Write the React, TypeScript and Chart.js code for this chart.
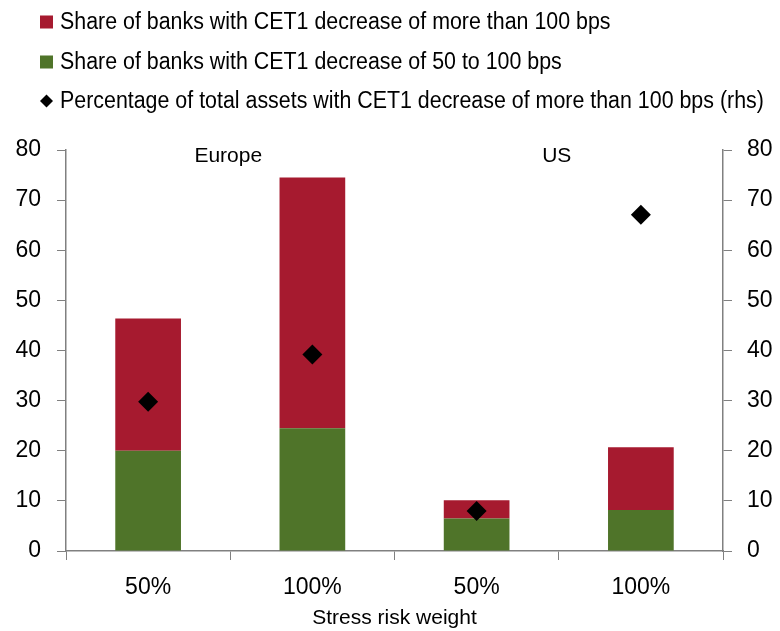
import React, { useEffect, useRef } from "react";
import { Chart, registerables } from "chart.js";

Chart.register(...registerables);

const categories = ["50%", "100%", "50%", "100%"];
const groupLabels = ["Europe", "US"];
const share50to100 = [20, 24.5, 6.5, 8.2];
const shareMore100 = [26.4, 50, 3.6, 12.5];
const assetsMore100 = [29.8, 39.2, 8.0, 67.1];
const yTicks = [0, 10, 20, 30, 40, 50, 60, 70, 80];

const RED = "#A61A2F";
const GREEN = "#4F7429";
const AXIS = "#808080";
const FONT = "'Liberation Sans', Arial, sans-serif";

const legendPlugin = {
  id: "customLegend",
  afterDraw(chart: any) {
    const ctx = chart.ctx;
    const items = [
      { text: chart.data.datasets[1].label, color: RED, kind: "box" },
      { text: chart.data.datasets[0].label, color: GREEN, kind: "box" },
      { text: chart.data.datasets[2].label, color: "#000", kind: "diamond" },
    ];
    const ys = [22, 62, 101];
    ctx.save();
    ctx.textBaseline = "middle";
    ctx.textAlign = "left";
    items.forEach((it, i) => {
      const y = ys[i];
      ctx.fillStyle = it.color;
      if (it.kind === "box") {
        ctx.fillRect(40, y - 6.5, 13, 13);
      } else {
        ctx.beginPath();
        ctx.moveTo(46.5, y - 6.5);
        ctx.lineTo(53, y);
        ctx.lineTo(46.5, y + 6.5);
        ctx.lineTo(40, y);
        ctx.closePath();
        ctx.fill();
      }
      ctx.save();
      ctx.translate(60, y + 1);
      ctx.scale(0.93, 1);
      ctx.font = `23px ${FONT}`;
      ctx.fillStyle = "#000";
      ctx.fillText(it.text, 0, 0);
      ctx.restore();
    });
    ctx.restore();
  },
};

const groupLabelPlugin = {
  id: "groupLabels",
  afterDraw(chart: any) {
    const ctx = chart.ctx;
    const x = chart.scales.x;
    const top = chart.chartArea.top;
    ctx.save();
    ctx.font = `21px ${FONT}`;
    ctx.fillStyle = "#000";
    ctx.textAlign = "center";
    ctx.textBaseline = "middle";
    groupLabels.forEach((g, i) => {
      const cx = (x.getPixelForValue(i * 2) + x.getPixelForValue(i * 2 + 1)) / 2;
      ctx.fillText(g, cx - 2, top + 6);
    });
    ctx.restore();
  },
};

export default function App() {
  const ref = useRef<HTMLCanvasElement>(null);
  useEffect(() => {
    if (!ref.current) return;
    const tickFont = { family: FONT, size: 23 };
    const chart = new Chart(ref.current, {
      type: "bar",
      data: {
        labels: categories,
        datasets: [
          {
            type: "bar",
            label: "Share of banks with CET1 decrease of 50 to 100 bps",
            data: share50to100,
            backgroundColor: GREEN,
            yAxisID: "y",
            order: 0,
          },
          {
            type: "bar",
            label: "Share of banks with CET1 decrease of more than 100 bps",
            data: shareMore100,
            backgroundColor: RED,
            yAxisID: "y",
            order: 0,
          },
          {
            type: "line",
            label:
              "Percentage of total assets with CET1 decrease of more than 100 bps (rhs)",
            data: assetsMore100,
            showLine: false,
            pointStyle: "rectRot",
            pointRadius: 10,
            backgroundColor: "#000",
            borderColor: "#000",
            borderWidth: 0,
            yAxisID: "y2",
            order: -1,
          } as any,
        ],
      },
      options: {
        responsive: false,
        animation: false,
        layout: { padding: { top: 150, left: 0, right: 0, bottom: 0 } },
        plugins: { legend: { display: false }, tooltip: { enabled: false } },
        datasets: { bar: { categoryPercentage: 1, barPercentage: 0.4 } },
        scales: {
          x: {
            stacked: true,
            offset: true,
            grid: {
              offset: true,
              drawOnChartArea: false,
              drawTicks: true,
              tickLength: 9,
              color: AXIS,
            },
            border: { color: AXIS, width: 1.5 },
            ticks: { font: tickFont, color: "#000", padding: 14 },
            title: {
              display: true,
              text: "Stress risk weight",
              font: { family: FONT, size: 21 },
              color: "#000",
              padding: { top: 0, bottom: 0 },
            },
            afterFit: (s: any) => {
              s.height = 80;
            },
          },
          y: {
            stacked: true,
            position: "left",
            min: 0,
            max: 80,
            afterBuildTicks: (s: any) => {
              s.ticks = yTicks.map((v) => ({ value: v }));
            },
            grid: { drawOnChartArea: false, tickLength: 9, color: AXIS },
            border: { color: AXIS, width: 1.5 },
            ticks: { font: tickFont, color: "#000", padding: 16 },
            afterFit: (s: any) => {
              s.width = 66;
            },
          },
          y2: {
            position: "right",
            min: 0,
            max: 80,
            afterBuildTicks: (s: any) => {
              s.ticks = yTicks.map((v) => ({ value: v }));
            },
            grid: { drawOnChartArea: false, tickLength: 9, color: AXIS },
            border: { color: AXIS, width: 1.5 },
            ticks: { font: tickFont, color: "#000", padding: 15 },
            afterFit: (s: any) => {
              s.width = 57;
            },
          },
        },
      } as any,
      plugins: [legendPlugin, groupLabelPlugin],
    });
    return () => chart.destroy();
  }, []);
  return (
    <div style={{ position: "absolute", left: 0, top: 0, width: 780, height: 631, background: "#fff" }}>
      <canvas ref={ref} width={780} height={631} style={{ display: "block" }} />
    </div>
  );
}
